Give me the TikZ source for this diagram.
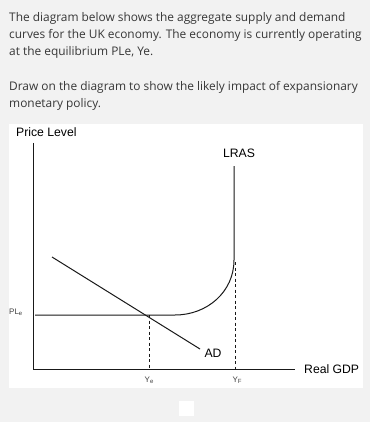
\documentclass[tikz,border=0pt]{standalone}
\usepackage{fontspec}
\setmainfont{Open Sans}
\newfontfamily\arialf{Liberation Sans}
\definecolor{bgc}{RGB}{242,242,242}
\definecolor{txtc}{RGB}{55,55,55}
\begin{document}
\begin{tikzpicture}[x=1pt,y=-1pt,
  qtext/.style={anchor=west,inner sep=0pt,text=txtc,font=\fontsize{11.9}{14}\selectfont},
  lab/.style={inner sep=0pt,font=\arialf\fontsize{12.2}{14}\selectfont},
  smalllab/.style={inner sep=0pt,font=\arialf\fontsize{8}{9}\selectfont,text=black!75},
  curve/.style={line width=1pt,black!90},
  dashline/.style={line width=1pt,dash pattern=on 3pt off 2.5pt,black!90}]
\fill[bgc] (0,0) rectangle (370,422);
\useasboundingbox (0,0) rectangle (370,422);
\fill[white] (9,124) rectangle (363,388);
\fill[white] (179,401) rectangle (194,416);
% question text
\node[qtext] (t1) at (9,18) {The diagram below shows the aggregate supply and demand};
\node[qtext] (t2) at (9,35) {curves for the UK economy. The economy is currently operating};
\node[qtext] (t3) at (9,52) {at the equilibrium PLe, Ye.};
\node[qtext] (t4) at (9,87) {Draw on the diagram to show the likely impact of expansionary};
\node[qtext] (t5) at (9,104) {monetary policy.};
% axes
\coordinate (O) at (33,369);
\coordinate (ytop) at (33,143);
\coordinate (xend) at (295,369);
\draw[curve] (ytop) -- (O) -- (xend);
\node[lab,anchor=west] (plabel) at (16,132) {Price Level};
\node[lab,anchor=west] (xlabel) at (304,369) {Real GDP};
% AS curve
\coordinate (ple0) at (35,315);
\coordinate (bend) at (175,315);
\coordinate (join) at (234,260);
\coordinate (lrastop) at (234,166);
\draw[curve] (ple0) -- (bend) .. controls (207,315) and (234,292) .. (join) -- (lrastop);
\node[lab] (lras) at (239,153) {LRAS};
% AD
\coordinate (ad1) at (52,257);
\coordinate (ad2) at (200,349);
\draw[curve] (ad1) -- (ad2);
\node[lab] (adlab) at (213,353) {AD};
% dashed lines
\coordinate (eq) at (149,315);
\coordinate (yeb) at (149,369);
\draw[dashline] (eq) -- (yeb);
\coordinate (yft) at (235,262);
\coordinate (yfb) at (235,369);
\draw[dashline] (yft) -- (yfb);
% small labels
\node[smalllab,anchor=west] (ple) at (9,312) {PL\raisebox{-0.2ex}{\fontsize{6}{7}\selectfont e}};
\node[smalllab] (ye) at (149,380) {Y\raisebox{-0.2ex}{\fontsize{6}{7}\selectfont e}};
\node[smalllab] (yf) at (237,380) {Y\raisebox{-0.2ex}{\fontsize{6}{7}\selectfont F}};
\end{tikzpicture}
\end{document}
